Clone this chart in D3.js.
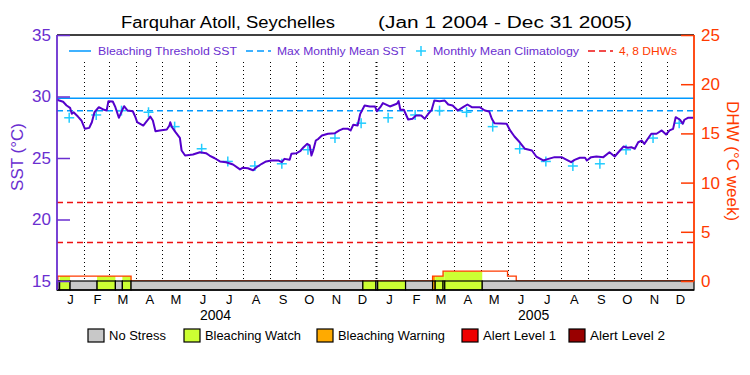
<!DOCTYPE html>
<html>
<head>
<meta charset="utf-8">
<script src="https://cdn.jsdelivr.net/npm/d3@7"></script>
<style>
  body { margin: 0; background: #fff; }
  text { font-family: "Liberation Sans", Arial, sans-serif; }
</style>
</head>
<body>
<script>
// SST trace: days since Jan 1 2004 and deg C
var sstDay = [0, 7, 11, 15, 17, 19, 24, 28, 32, 37, 40, 43, 48, 54, 57, 59, 64, 67, 71, 75,
  77, 81, 87, 90, 92, 99, 103, 107, 110, 113, 118, 126, 129, 130, 132, 136, 141, 143, 147, 156,
  164, 171, 175, 181, 187, 194, 202, 210, 213, 219, 225, 229, 235, 240, 246, 254, 258, 261, 267, 269,
  275, 279, 283, 287, 290, 292, 294, 297, 300, 304, 311, 319, 324, 328, 334, 337, 340, 345, 348, 353,
  359, 365, 367, 371, 374, 382, 390, 392, 394, 398, 403, 408, 412, 418, 422, 426, 430, 433, 439, 445,
  449, 454, 460, 466, 471, 476, 485, 491, 496, 499, 502, 516, 520, 525, 531, 537, 545, 550, 558, 564,
  571, 579, 585, 590, 594, 600, 606, 608, 613, 619, 627, 634, 640, 646, 650, 655, 659, 663, 667, 671,
  674, 682, 688, 694, 699, 703, 707, 710, 715, 718, 720, 724, 730];
var sstVal = [29.73, 29.57, 29.27, 29.08, 28.59, 28.72, 28.37, 28.05, 27.37, 27.45, 27.91, 28.72, 29.13, 28.92, 28.86, 29.62, 29.59, 29.13, 28.27, 28.92,
  29.21, 28.86, 28.80, 28.32, 27.91, 27.64, 27.99, 28.37, 28.05, 27.18, 27.24, 27.32, 27.64, 27.91, 27.50, 27.10, 26.64, 25.61, 25.20, 25.28,
  25.47, 25.39, 25.20, 24.98, 24.72, 24.66, 24.47, 24.07, 24.20, 24.17, 24.00, 24.25, 24.53, 24.72, 24.80, 24.80, 24.66, 24.93, 24.85, 25.34,
  25.39, 25.55, 25.88, 26.15, 26.02, 25.20, 25.61, 26.42, 26.56, 26.83, 26.97, 27.02, 27.24, 27.37, 27.37, 27.24, 27.70, 27.64, 28.59, 29.27,
  29.19, 29.19, 28.80, 29.13, 29.46, 29.19, 29.41, 29.62, 28.92, 28.92, 28.13, 28.19, 28.46, 28.46, 28.19, 28.59, 28.92, 29.67, 29.62, 29.67,
  29.35, 29.27, 28.86, 29.13, 29.35, 29.13, 29.13, 28.86, 28.78, 28.19, 27.83, 27.78, 27.24, 26.75, 26.28, 25.75, 25.61, 25.12, 24.80, 24.93,
  25.07, 25.07, 24.85, 24.66, 24.85, 25.02, 25.02, 24.80, 25.07, 25.12, 25.07, 25.47, 25.12, 25.61, 25.93, 25.83, 25.88, 25.75, 26.28, 26.42,
  26.15, 26.97, 26.97, 27.24, 26.91, 27.24, 27.37, 28.32, 28.11, 27.78, 28.11, 28.27, 28.27];

// monthly mean climatology, Jan..Dec (same for both years)
var climMonths = ["Jan", "Feb", "Mar", "Apr", "May", "Jun", "Jul", "Aug", "Sep", "Oct", "Nov", "Dec"];
var climVal = [28.27, 28.5, 28.85, 28.72, 27.55, 25.75, 24.72, 24.35, 24.53, 25.67, 26.62, 27.83];

var mmm = 28.85;
var bleachThreshold = 29.85;
var dhwLines = [4, 8];

// DHW, step values (days since Jan 1 2004)
var dhwDay = [0, 1.5, 85, 431, 443, 517, 527, 731];
var dhwVal = [0, 0.5, 0, 0.5, 1.0, 0.5, 0, 0];

// stress level segments
var stressStart = [0, 1.5, 3.5, 15, 46, 67, 75, 85, 351, 366, 368, 400, 431, 434, 443, 445, 488];
var stressEnd = [1.5, 3.5, 15, 46, 67, 75, 85, 351, 366, 368, 400, 431, 434, 443, 445, 488, 731];
var stressLevel = [1, 0, 1, 0, 1, 0, 1, 0, 1, 0, 1, 0, 2, 1, 1, 1, 0];

var stressNames = ["No Stress", "Bleaching Watch", "Bleaching Warning", "Alert Level 1", "Alert Level 2"];
var stressColors = ["#c8c8c8", "#ccff33", "#ffaa00", "#ee0000", "#990000"];

var sstTicks = [15, 20, 25, 30, 35];
var dhwTicks = [0, 5, 10, 15, 20, 25];
var years = ["2004", "2005"];

var W = 750, H = 375;
var left = 57, right = 694, plotTop = 35, base = 281, bottom = 290;
var purple = "#6a2ed0", orange = "#ff3a00", blue = "#0099ff", cyan = "#22ccff";

var t0 = new Date(2004, 0, 1), t1 = new Date(2006, 0, 1);
function day(d) { return d3.timeDay.offset(t0, d); }

var x = d3.scaleTime().domain([t0, t1]).range([left, right]);
var ySST = d3.scaleLinear().domain([15, 35]).range([base, plotTop]);
var yDHW = d3.scaleLinear().domain([0, 25]).range([base, plotTop]);

var svg = d3.select("body").append("svg")
  .attr("width", W).attr("height", H);

// title
svg.append("text").attr("x", 121).attr("y", 28)
  .attr("font-size", 16).attr("textLength", 214).attr("lengthAdjust", "spacingAndGlyphs")
  .text("Farquhar Atoll, Seychelles");
svg.append("text").attr("x", 378).attr("y", 28)
  .attr("font-size", 16).attr("textLength", 254).attr("lengthAdjust", "spacingAndGlyphs")
  .text("(Jan 1 2004 - Dec 31 2005)");

// month gridlines (dotted)
var months = d3.timeMonth.range(d3.timeMonth.offset(t0, 1), t1);
svg.append("g").selectAll("line")
  .data(months)
  .enter().append("line")
  .attr("x1", function (d) { return Math.round(x(d)) + 0.5; })
  .attr("x2", function (d) { return Math.round(x(d)) + 0.5; })
  .attr("y1", 62).attr("y2", base)
  .attr("stroke", "#000")
  .attr("stroke-width", function (d) { return d.getMonth() == 0 ? 2 : 1; })
  .attr("stroke-dasharray", "1,3");

// DHW reference lines
svg.append("g").selectAll("line")
  .data(dhwLines)
  .enter().append("line")
  .attr("x1", left).attr("x2", right)
  .attr("y1", function (d) { return Math.round(yDHW(d)) + 0.5; })
  .attr("y2", function (d) { return Math.round(yDHW(d)) + 0.5; })
  .attr("stroke", "#ee1111").attr("stroke-width", 1.3)
  .attr("stroke-dasharray", "6,4");

// threshold + MMM
svg.append("line")
  .attr("x1", left).attr("x2", right)
  .attr("y1", ySST(bleachThreshold)).attr("y2", ySST(bleachThreshold))
  .attr("stroke", blue).attr("stroke-width", 1.5);
svg.append("line")
  .attr("x1", left).attr("x2", right)
  .attr("y1", ySST(mmm)).attr("y2", ySST(mmm))
  .attr("stroke", blue).attr("stroke-width", 1.5)
  .attr("stroke-dasharray", "6,4");

// climatology crosses
var climData = [];
[2004, 2005].forEach(function (yr) {
  climVal.forEach(function (v, i) { climData.push({ date: new Date(yr, i, 15), v: v }); });
});
var cross = svg.append("g").attr("stroke", cyan).attr("stroke-width", 1.5);
climData.forEach(function (d) {
  var cx = x(d.date), cy = ySST(d.v);
  cross.append("line").attr("x1", cx - 5).attr("x2", cx + 5).attr("y1", cy).attr("y2", cy);
  cross.append("line").attr("x1", cx).attr("x2", cx).attr("y1", cy - 5).attr("y2", cy + 5);
});

// SST line
var sstData = sstDay.map(function (d, i) { return { date: day(d), v: sstVal[i] }; });
svg.append("path")
  .datum(sstData)
  .attr("fill", "none")
  .attr("stroke", "#5500cc")
  .attr("stroke-width", 2)
  .attr("stroke-linejoin", "round")
  .attr("d", d3.line()
    .x(function (d) { return x(d.date); })
    .y(function (d) { return ySST(d.v); }));

// DHW area filled with stress colour
var dhwData = dhwDay.map(function (d, i) { return { date: day(d), v: dhwVal[i] }; });
svg.append("clipPath").attr("id", "dhwclip")
  .append("path").datum(dhwData)
  .attr("d", d3.area()
    .x(function (d) { return x(d.date); })
    .y0(base).y1(function (d) { return yDHW(d.v); })
    .curve(d3.curveStepAfter));

var stressData = stressStart.map(function (s, i) {
  return { s: day(s), e: day(stressEnd[i]), level: stressLevel[i] };
});
svg.append("g").attr("clip-path", "url(#dhwclip)")
  .selectAll("rect")
  .data(stressData.filter(function (d) { return d.level > 0; }))
  .enter().append("rect")
  .attr("x", function (d) { return x(d.s); })
  .attr("width", function (d) { return x(d.e) - x(d.s); })
  .attr("y", yDHW(3)).attr("height", base - yDHW(3))
  .attr("fill", function (d) { return stressColors[d.level]; });

svg.append("path")
  .datum(dhwData)
  .attr("fill", "none")
  .attr("stroke", orange)
  .attr("stroke-width", 1.3)
  .attr("d", d3.line()
    .x(function (d) { return x(d.date); })
    .y(function (d) { return yDHW(d.v); })
    .curve(d3.curveStepAfter));

// stress bar
svg.append("g").selectAll("rect")
  .data(stressData)
  .enter().append("rect")
  .attr("x", function (d) { return x(d.s); })
  .attr("width", function (d) { return x(d.e) - x(d.s); })
  .attr("y", base).attr("height", bottom - base)
  .attr("fill", function (d) { return stressColors[d.level]; })
  .attr("stroke", "#000").attr("stroke-width", 1.2);

// frame
svg.append("line").attr("x1", left).attr("x2", right).attr("y1", plotTop).attr("y2", plotTop)
  .attr("stroke", "#000").attr("stroke-width", 1.5);
svg.append("line").attr("x1", left).attr("x2", right).attr("y1", bottom).attr("y2", bottom)
  .attr("stroke", "#000").attr("stroke-width", 1.5);
svg.append("line").attr("x1", left).attr("x2", left).attr("y1", plotTop).attr("y2", bottom)
  .attr("stroke", purple).attr("stroke-width", 1.8);
svg.append("line").attr("x1", right).attr("x2", right).attr("y1", plotTop).attr("y2", base)
  .attr("stroke", orange).attr("stroke-width", 1.8);

// left axis
var gL = svg.append("g").attr("transform", "translate(" + left + ",0)");
gL.call(d3.axisLeft(ySST).tickValues(d3.range(15, 36, 1)).tickSize(-6).tickFormat(""));
gL.call(d3.axisLeft(ySST).tickValues(sstTicks).tickSize(-13).tickPadding(6).tickFormat(d3.format("d")));
gL.selectAll(".domain").remove();
gL.selectAll("line").attr("stroke", purple).attr("stroke-width", 1.5);
gL.selectAll("text").attr("fill", purple).attr("font-size", 17)
  .attr("font-family", "Liberation Sans, Arial, sans-serif");

// right axis
var gR = svg.append("g").attr("transform", "translate(" + right + ",0)");
gR.call(d3.axisRight(yDHW).tickValues(d3.range(0, 26, 1)).tickSize(-6).tickFormat(""));
gR.call(d3.axisRight(yDHW).tickValues(dhwTicks).tickSize(-13).tickPadding(7).tickFormat(d3.format("d")));
gR.selectAll(".domain").remove();
gR.selectAll("line").attr("stroke", orange).attr("stroke-width", 1.5);
gR.selectAll("text").attr("fill", orange).attr("font-size", 17)
  .attr("font-family", "Liberation Sans, Arial, sans-serif");

// axis titles
svg.append("text")
  .attr("transform", "translate(23,157) rotate(-90)")
  .attr("text-anchor", "middle").attr("font-size", 17).attr("fill", purple)
  .text("SST (°C)");
svg.append("text")
  .attr("transform", "translate(727,161) rotate(90)")
  .attr("text-anchor", "middle").attr("font-size", 17).attr("fill", orange)
  .text("DHW (°C week)");

// month axis
var midMonths = d3.timeMonth.range(t0, t1).map(function (d) { return d3.timeDay.offset(d, 15); });
var gX = svg.append("g").attr("transform", "translate(0," + bottom + ")");
gX.call(d3.axisBottom(x).tickValues(midMonths).tickSize(0).tickPadding(5)
  .tickFormat(function (d) { return d3.timeFormat("%b")(d).charAt(0); }));
gX.select(".domain").remove();
gX.selectAll("text").attr("font-size", 13).attr("fill", "#000")
  .attr("font-family", "Liberation Sans, Arial, sans-serif");

svg.append("g").selectAll("text")
  .data(years)
  .enter().append("text")
  .attr("x", function (d) { return x(new Date(+d, 6, 1)); })
  .attr("y", 320)
  .attr("text-anchor", "middle").attr("font-size", 14)
  .text(function (d) { return d; });

// top legend
var lg = svg.append("g");
var ly = 51;
lg.append("line").attr("x1", 69).attr("x2", 91).attr("y1", ly).attr("y2", ly)
  .attr("stroke", blue).attr("stroke-width", 1.5);
lg.append("text").attr("x", 98).attr("y", 55).attr("font-size", 11.5).attr("fill", purple)
  .attr("textLength", 139).attr("lengthAdjust", "spacingAndGlyphs").text("Bleaching Threshold SST");
lg.append("line").attr("x1", 246).attr("x2", 271).attr("y1", ly).attr("y2", ly)
  .attr("stroke", blue).attr("stroke-width", 1.5).attr("stroke-dasharray", "7,4");
lg.append("text").attr("x", 277).attr("y", 55).attr("font-size", 11.5).attr("fill", purple)
  .attr("textLength", 129).attr("lengthAdjust", "spacingAndGlyphs").text("Max Monthly Mean SST");
lg.append("line").attr("x1", 416).attr("x2", 426).attr("y1", ly).attr("y2", ly)
  .attr("stroke", cyan).attr("stroke-width", 1.5);
lg.append("line").attr("x1", 421).attr("x2", 421).attr("y1", ly - 5).attr("y2", ly + 5)
  .attr("stroke", cyan).attr("stroke-width", 1.5);
lg.append("text").attr("x", 433).attr("y", 55).attr("font-size", 11.5).attr("fill", purple)
  .attr("textLength", 146).attr("lengthAdjust", "spacingAndGlyphs").text("Monthly Mean Climatology");
lg.append("line").attr("x1", 588).attr("x2", 613).attr("y1", ly).attr("y2", ly)
  .attr("stroke", "#ee1111").attr("stroke-width", 1.5).attr("stroke-dasharray", "7,4");
lg.append("text").attr("x", 619).attr("y", 55).attr("font-size", 11.5).attr("fill", orange)
  .attr("textLength", 58).attr("lengthAdjust", "spacingAndGlyphs").text("4, 8 DHWs");

// stress legend
var legX = [88, 184, 317, 462, 569];
var legW = [57, 96, 107, 73, 75];
var sl = svg.append("g").selectAll("g")
  .data(stressNames)
  .enter().append("g");
sl.append("rect")
  .attr("x", function (d, i) { return legX[i]; })
  .attr("y", 329).attr("width", 16).attr("height", 13)
  .attr("fill", function (d, i) { return stressColors[i]; })
  .attr("stroke", "#000").attr("stroke-width", 1.2);
sl.append("text")
  .attr("x", function (d, i) { return legX[i] + 21; })
  .attr("y", 340).attr("font-size", 12)
  .attr("textLength", function (d, i) { return legW[i]; })
  .attr("lengthAdjust", "spacingAndGlyphs")
  .text(function (d) { return d; });
</script>
</body>
</html>
